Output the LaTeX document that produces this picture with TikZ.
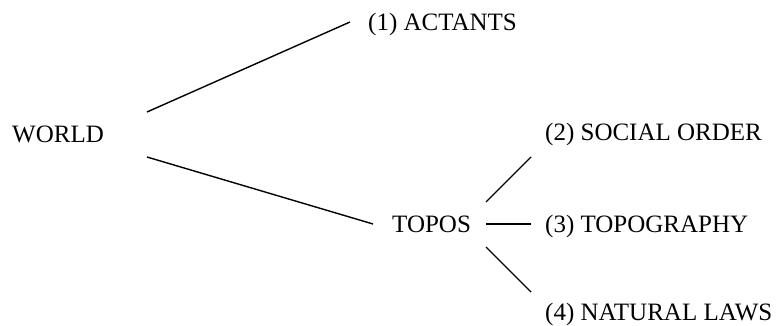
\documentclass[tikz,border=0pt]{standalone}
\usepackage{fontspec}
\setmainfont{Liberation Serif}
\begin{document}
\begin{tikzpicture}[x=1pt,y=-1pt,
  label/.style={anchor=base west,inner sep=0pt,font=\fontsize{25}{30}\selectfont},
  branch/.style={line width=1.4pt}]
\useasboundingbox (0,0) rectangle (782,326);
% labels
\node[label] (world)  at (12,143)  {WORLD};
\node[label] (actants) at (368,31) {(1) ACTANTS};
\node[label] (topos)  at (392,232) {TOPOS};
\node[label] (social) at (545,141) {(2) SOCIAL ORDER};
\node[label] (topo)   at (545,232) {(3) TOPOGRAPHY};
\node[label] (nature) at (545,320) {(4) NATURAL LAWS};
% branch end points
\coordinate (w1) at (147,112);
\coordinate (a1) at (350,22);
\coordinate (w2) at (147,157);
\coordinate (t0) at (373,224);
\coordinate (t1) at (486,202);
\coordinate (s1) at (531,157);
\coordinate (t2) at (486,224);
\coordinate (g1) at (531,224);
\coordinate (t3) at (486,247);
\coordinate (n1) at (531,292);
% branches
\draw[branch] (w1) -- (a1);
\draw[branch] (w2) -- (t0);
\draw[branch] (t1) -- (s1);
\draw[branch] (t2) -- (g1);
\draw[branch] (t3) -- (n1);
\end{tikzpicture}
\end{document}
